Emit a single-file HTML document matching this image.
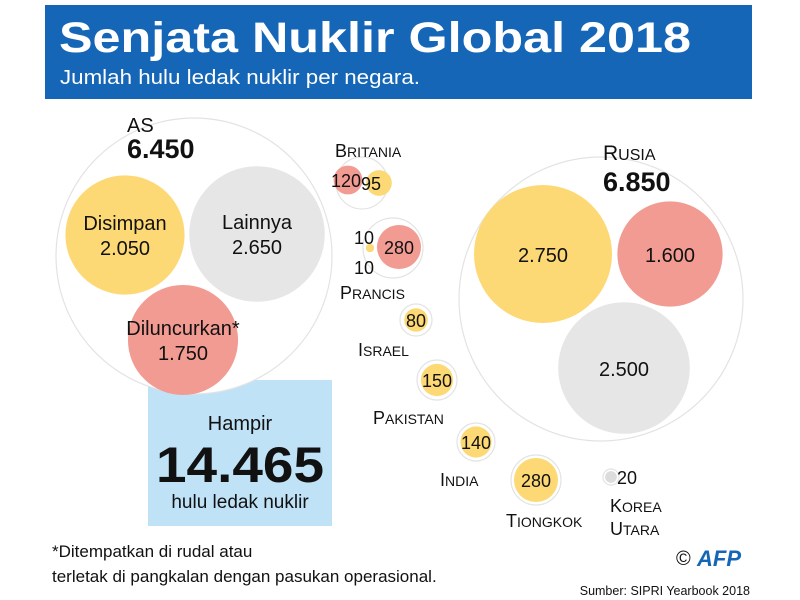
<!DOCTYPE html>
<html><head><meta charset="utf-8"><style>
body{margin:0;background:#fff;}
svg{display:block;font-family:"Liberation Sans",sans-serif;}
</style></head><body>
<svg id="chart" width="800" height="600" viewBox="0 0 800 600">
<rect x="45" y="5" width="707" height="94" fill="#1566b7"/>
<text x="59" y="52" font-size="43" font-weight="bold" fill="#fff" textLength="632" lengthAdjust="spacingAndGlyphs">Senjata Nuklir Global 2018</text>
<text x="60" y="84" font-size="20" fill="#fff" textLength="360" lengthAdjust="spacingAndGlyphs">Jumlah hulu ledak nuklir per negara.</text>
<rect x="148" y="380" width="184" height="146" fill="#bfe2f7"/>
<g id="marks"></g>
<text x="240" y="430" font-size="20" text-anchor="middle" fill="#111">Hampir</text>
<text x="240" y="482" font-size="50" font-weight="bold" text-anchor="middle" fill="#111" textLength="168" lengthAdjust="spacingAndGlyphs">14.465</text>
<text x="240" y="508" font-size="19" text-anchor="middle" fill="#111">hulu ledak nuklir</text>
<g id="labels" font-size="17" fill="#111"></g>
<text x="52" y="557" font-size="17" fill="#111">*Ditempatkan di rudal atau</text>
<text x="52" y="582" font-size="17" fill="#111">terletak di pangkalan dengan pasukan operasional.</text>
<text x="676" y="565" font-size="20" fill="#111">©</text>
<text x="697" y="566" font-size="22" font-weight="bold" font-style="italic" fill="#1566b7">AFP</text>
<text x="750" y="595" font-size="12.5" text-anchor="end" fill="#111">Sumber: SIPRI Yearbook 2018</text>
</svg>
<script>
const countries=["AS","Rusia","Britania","Prancis","Israel","Pakistan","India","Tiongkok","Korea Utara"];
const countryTotals=[6450,6850,215,300,80,150,140,280,20];
const subLabels=["Disimpan","Lainnya","Diluncurkan*","","","","","","","","","","",""];
const subValues=[2050,2650,1750,2750,1600,2500,120,95,280,10,80,150,140,280,20];
const subText=["2.050","2.650","1.750","2.750","1.600","2.500","120","95","280","","80","150","140","280","20"];
const subColors=["#fdd975","#e6e6e6","#f29b93","#fdd975","#f29b93","#e6e6e6","#f29b93","#fdd975","#f29b93","#fdd975","#fdd975","#fdd975","#fdd975","#fdd975","#dcdcdc"];
const subOwner=[0,0,0,1,1,1,2,2,3,3,4,5,6,7,8];
// layout only
const subPos=[[125,235],[257,234],[183,340],[543,254],[670,254],[624,368],[348,180],[379,183],[399,247],[370,248],[416,320],[437,380],[476,442],[536,480],[611,477]];
const outerPos=[[194,256,138],[601,299,142],[362,183,26],[393,248,30],[416,320,16],[437,380,20],[476,442,19],[536,480,25],[611,477,8]];
const K=1.316;
const rScale=v=>K*Math.sqrt(v);
const NS="http://www.w3.org/2000/svg";
const g=document.getElementById('marks');
const lg=document.getElementById('labels');
function mk(tag,attrs,parent){const e=document.createElementNS(NS,tag);for(const k in attrs)e.setAttribute(k,attrs[k]);parent.appendChild(e);return e;}
outerPos.forEach((p,i)=>{
  const c=mk('circle',{cx:p[0],cy:p[1],r:p[2],fill:'#fff',stroke:'#e3e3e3','stroke-width':1.2},g);
  
  
});
subValues.forEach((v,i)=>{
  const p=subPos[i];
  const c=mk('circle',{cx:p[0],cy:p[1],r:rScale(v),fill:subColors[i]},g);
  
  
});
subValues.forEach((v,i)=>{
  const p=subPos[i];const big=i<6;
  if(subLabels[i]){
    const t=mk('text',{x:p[0],y:p[1]-5,'text-anchor':'middle','font-size':20},lg);t.textContent=subLabels[i];
    
    
  }
  if(subText[i]){
    let x=p[0],anchor='middle';
    if(i===6){x=p[0]+13;anchor='end';}
    if(i===7){x=p[0]-18;anchor='start';}
    if(i===14){x=p[0]+6;anchor='start';}
    const t=mk('text',{x:x,y:subLabels[i]?p[1]+20:p[1]+(big?8:7),'text-anchor':anchor,'font-size':big?20:18},lg);t.textContent=subText[i];
    
    
  }
});
const extra=[["10",354,244],["10",354,274]];
extra.forEach((e,i)=>{const t=mk('text',{x:e[1],y:e[2],'font-size':18},lg);t.textContent=e[0];
  
  });
// country name labels (small caps)
const nameLbl=[["AS",127,132],["RUSIA",603,160],["BRITANIA",335,157],["PRANCIS",340,299],["ISRAEL",358,356],["PAKISTAN",373,424],["INDIA",440,486],["TIONGKOK",506,527],["KOREA",610,512],["UTARA",610,535]];
nameLbl.forEach((n,i)=>{
  const t=mk('text',{x:n[1],y:n[2],'font-size':i<2?16:14},lg);
  if(i===0){t.setAttribute('font-size',20);t.textContent=n[0];}
  else{const a=mk('tspan',{'font-size':i<2?21:18},t);a.textContent=n[0][0];const b=mk('tspan',{},t);b.textContent=n[0].slice(1);}
  
  
});
const totText=["6.450","6.850"];
[[127,158],[603,191]].forEach((p,i)=>{const t=mk('text',{x:p[0],y:p[1],'font-size':27,'font-weight':'bold'},lg);t.textContent=totText[i];
  
  });
</script>
</body></html>
